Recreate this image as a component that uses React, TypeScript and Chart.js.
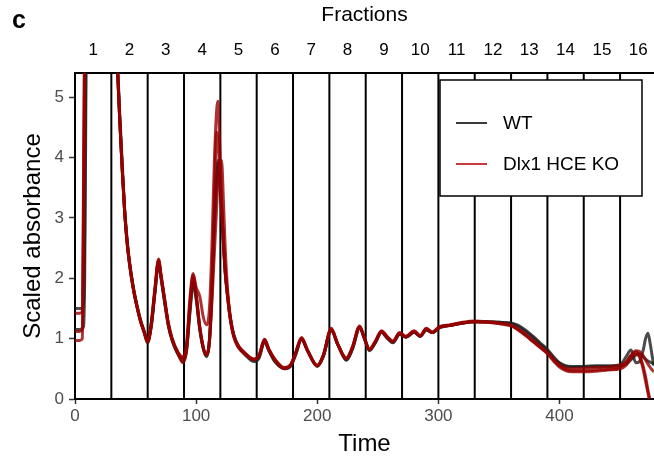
import React, { useEffect, useRef } from 'react';
import { Chart, registerables } from 'chart.js';

Chart.register(...registerables);

const FONT = '"Liberation Sans", Arial, Helvetica, sans-serif';

// Elution time (shared by all traces)
const time = [
  0, 4, 6, 7, 8, 9, 10, 15, 20, 25,
  30, 33, 35, 37, 39, 41, 43, 45, 48, 51,
  54, 57, 60, 63, 66, 69, 71, 74, 77, 80,
  85, 89, 92, 95, 97.5, 100, 103, 106, 108.5, 111,
  113, 115, 117, 118, 119.5, 121, 122.5, 124, 126, 128,
  131, 135, 140, 148, 152, 156.5, 160, 165, 173, 178,
  182, 187, 192, 200, 205, 211.5, 217, 224, 229, 235,
  239, 243, 248, 253, 258, 262.5, 268, 273, 280, 285,
  290, 295, 301, 310, 320, 330, 340, 350, 360, 366,
  372, 378, 384, 390, 395, 400, 405, 410, 420, 430,
  440, 450, 455, 459, 463, 466, 469, 471, 473, 475,
  477, 478,
];

const wt1 = [
  1.5, 1.5, 1.5, 1.6, 2.8, 6.0, 8.5, 11, 11, 10,
  8, 6.6, 5.6, 4.7, 3.9, 3.15, 2.65, 2.28, 1.87, 1.57,
  1.32, 1.13, 0.97, 1.2, 1.75, 2.25, 2.0, 1.6, 1.22, 0.98,
  0.74, 0.62, 0.78, 1.45, 1.9, 1.65, 1.15, 0.82, 0.7, 0.95,
  1.7, 2.8, 3.6, 3.9, 3.6, 3.1, 2.6, 2.1, 1.68, 1.36,
  1.06, 0.86, 0.74, 0.62, 0.68, 0.95, 0.8, 0.62, 0.5, 0.54,
  0.72, 0.98, 0.8, 0.54, 0.7, 1.13, 0.9, 0.64, 0.82, 1.17,
  1.0, 0.8, 0.93, 1.1, 1.0, 0.93, 1.07, 1.02, 1.1, 1.04,
  1.14, 1.1, 1.18, 1.22, 1.26, 1.28, 1.28, 1.27, 1.26, 1.22,
  1.14, 1.04, 0.93, 0.82, 0.7, 0.6, 0.55, 0.54, 0.54, 0.55,
  0.55, 0.57, 0.7, 0.81, 0.6, 0.62, 0.8, 1.0, 1.09, 0.9,
  0.65, 0.55,
];

const wt2 = [
  1.15, 1.15, 1.17, 1.2, 2.0, 5.0, 8.0, 11, 11, 10,
  8, 6.5, 5.5, 4.6, 3.8, 3.1, 2.6, 2.24, 1.84, 1.54,
  1.29, 1.1, 0.93, 1.22, 1.78, 2.28, 2.02, 1.62, 1.23, 0.99,
  0.75, 0.68, 0.82, 1.5, 1.95, 1.7, 1.18, 0.84, 0.72, 0.98,
  1.8, 3.0, 3.75, 3.95, 3.7, 3.2, 2.65, 2.15, 1.72, 1.38,
  1.07, 0.87, 0.76, 0.64, 0.7, 0.96, 0.81, 0.63, 0.51, 0.55,
  0.73, 0.99, 0.8, 0.55, 0.71, 1.14, 0.9, 0.65, 0.83, 1.18,
  1.0, 0.81, 0.94, 1.11, 1.01, 0.94, 1.08, 1.03, 1.11, 1.04,
  1.15, 1.1, 1.19, 1.22, 1.26, 1.28, 1.28, 1.27, 1.25, 1.2,
  1.12, 1.02, 0.91, 0.8, 0.68, 0.59, 0.54, 0.53, 0.53, 0.54,
  0.54, 0.55, 0.58, 0.65, 0.73, 0.75, 0.7, 0.66, 0.63, 0.61,
  0.59, 0.58,
];

const ko1 = [
  1.12, 1.12, 1.15, 3.0, 6.0, 8.0, 9.0, 11, 11, 10,
  8, 6.5, 5.5, 4.6, 3.8, 3.1, 2.6, 2.25, 1.85, 1.55,
  1.3, 1.12, 0.95, 1.25, 1.8, 2.3, 2.05, 1.64, 1.25, 1.0,
  0.76, 0.66, 0.85, 1.6, 2.05, 1.75, 1.2, 0.85, 0.73, 1.0,
  1.9, 3.3, 4.42, 4.3, 3.7, 3.1, 2.6, 2.1, 1.7, 1.35,
  1.03, 0.85, 0.75, 0.65, 0.72, 0.98, 0.82, 0.65, 0.51, 0.56,
  0.75, 1.01, 0.8, 0.55, 0.72, 1.16, 0.9, 0.67, 0.85, 1.2,
  1.0, 0.82, 0.95, 1.12, 1.02, 0.95, 1.09, 1.03, 1.12, 1.04,
  1.16, 1.1, 1.19, 1.22, 1.26, 1.28, 1.27, 1.25, 1.22, 1.15,
  1.06, 0.96, 0.86, 0.76, 0.65, 0.55, 0.49, 0.47, 0.47, 0.48,
  0.49, 0.52, 0.6, 0.72, 0.78, 0.72, 0.55, 0.37, 0.15, -0.05,
  -0.3, -0.4,
];

const ko2 = [
  1.42, 1.42, 1.45, 3.5, 6.5, 8.5, 9.5, 11, 11, 10,
  8, 6.5, 5.5, 4.6, 3.8, 3.1, 2.6, 2.24, 1.84, 1.54,
  1.3, 1.12, 0.96, 1.28, 1.85, 2.32, 2.06, 1.66, 1.27, 1.02,
  0.78, 0.7, 0.9, 1.7, 2.08, 1.85, 1.7, 1.35, 1.23, 1.5,
  2.5, 3.9, 4.8, 4.93, 4.2, 3.3, 2.6, 2.1, 1.7, 1.36,
  1.05, 0.87, 0.76, 0.66, 0.73, 0.99, 0.83, 0.66, 0.52, 0.57,
  0.76, 1.02, 0.81, 0.56, 0.73, 1.17, 0.91, 0.68, 0.86, 1.21,
  1.01, 0.83, 0.96, 1.13, 1.03, 0.96, 1.1, 1.04, 1.13, 1.05,
  1.17, 1.11, 1.2, 1.23, 1.27, 1.29, 1.28, 1.26, 1.22, 1.16,
  1.07, 0.97, 0.87, 0.77, 0.66, 0.56, 0.51, 0.5, 0.51, 0.52,
  0.53, 0.56, 0.62, 0.72, 0.8, 0.79, 0.72, 0.65, 0.58, 0.52,
  0.47, 0.45,
];

const ko3 = [
  0.97, 0.97, 1.0, 2.5, 5.5, 8.0, 9.0, 11, 11, 10,
  8, 6.5, 5.5, 4.6, 3.8, 3.1, 2.6, 2.25, 1.85, 1.55,
  1.3, 1.12, 0.94, 1.24, 1.8, 2.28, 2.04, 1.63, 1.24, 1.0,
  0.76, 0.6, 0.8, 1.55, 2.0, 1.72, 1.18, 0.84, 0.73, 0.95,
  1.6, 2.4, 3.2, 3.6, 3.95, 3.95, 3.3, 2.5, 1.8, 1.4,
  1.06, 0.88, 0.77, 0.66, 0.72, 0.98, 0.82, 0.65, 0.5, 0.56,
  0.75, 1.0, 0.8, 0.55, 0.72, 1.15, 0.9, 0.67, 0.85, 1.19,
  1.0, 0.82, 0.95, 1.12, 1.02, 0.95, 1.09, 1.03, 1.12, 1.04,
  1.16, 1.1, 1.19, 1.22, 1.26, 1.28, 1.27, 1.25, 1.21, 1.14,
  1.05, 0.95, 0.85, 0.75, 0.63, 0.53, 0.47, 0.45, 0.45, 0.46,
  0.48, 0.5, 0.56, 0.68, 0.74, 0.7, 0.5, 0.3, 0.1, -0.1,
  -0.3, -0.4,
];

const xTicks = [0, 100, 200, 300, 400];
const yTicks = [0, 1, 2, 3, 4, 5];
const fractionBounds = [30, 60, 90, 120, 150, 180, 210, 240, 270, 300, 330, 360, 390, 420, 450];
const fractionCenters = [15, 45, 75, 105, 135, 165, 195, 225, 255, 285, 315, 345, 375, 405, 435, 465];
const fractionLabels = ['1', '2', '3', '4', '5', '6', '7', '8', '9', '10', '11', '12', '13', '14', '15', '16'];
const groupNames = ['WT', 'Dlx1 HCE KO'];

const WT_LINE = 'rgba(30,30,30,0.8)';
const KO_LINE = 'rgba(150,0,0,0.8)';
const WT_KEY = '#3b3b3b';
const KO_KEY = '#c63a3c';

export default function App() {
  const ref = useRef<HTMLCanvasElement>(null);

  useEffect(() => {
    if (!ref.current) return;
    const pts = (ys: number[]) => time.map((t, i) => ({ x: t, y: ys[i] }));

    const fractionPlugin = {
      id: 'fractionLines',
      beforeDatasetsDraw(chart: any) {
        const { ctx, chartArea, scales } = chart;
        ctx.save();
        ctx.strokeStyle = '#000';
        ctx.lineWidth = 2;
        for (const b of fractionBounds) {
          const px = scales.x.getPixelForValue(b);
          ctx.beginPath();
          ctx.moveTo(px, chartArea.top);
          ctx.lineTo(px, chartArea.bottom);
          ctx.stroke();
        }
        ctx.restore();
      },
      afterDraw(chart: any) {
        const { ctx, chartArea } = chart;
        ctx.save();
        // legend box
        const bx = chartArea.left + 365;
        const by = chartArea.top + 7;
        const bw = 202;
        const bh = 116;
        ctx.fillStyle = '#fff';
        ctx.fillRect(bx, by, bw, bh);
        ctx.strokeStyle = '#000';
        ctx.lineWidth = 1.5;
        ctx.strokeRect(bx, by, bw, bh);
        const keys = [WT_KEY, KO_KEY];
        const rows = [by + 43, by + 84];
        ctx.font = `19px ${FONT}`;
        ctx.textBaseline = 'middle';
        ctx.textAlign = 'left';
        groupNames.forEach((name, i) => {
          ctx.strokeStyle = keys[i];
          ctx.lineWidth = 2;
          ctx.beginPath();
          ctx.moveTo(bx + 16, rows[i]);
          ctx.lineTo(bx + 47, rows[i]);
          ctx.stroke();
          ctx.fillStyle = '#000';
          ctx.fillText(name, bx + 63, rows[i] + 1);
        });
        // panel tag
        ctx.font = `bold 25px ${FONT}`;
        ctx.textBaseline = 'alphabetic';
        ctx.fillStyle = '#000';
        ctx.fillText('c', 12, 28);
        ctx.restore();
      },
    };

    const tickFont = { family: FONT, size: 17 };
    const noSidePad = (s: any) => {
      s.paddingLeft = 0;
      s.paddingRight = 0;
    };

    const chart = new Chart(ref.current, {
      type: 'line',
      data: {
        datasets: [
          { label: groupNames[1], data: pts(ko1), borderColor: KO_LINE, order: 0 },
          { label: groupNames[1], data: pts(ko2), borderColor: KO_LINE, order: 0 },
          { label: groupNames[1], data: pts(ko3), borderColor: KO_LINE, order: 0 },
          { label: groupNames[0], data: pts(wt1), borderColor: WT_LINE, order: 1 },
          { label: groupNames[0], data: pts(wt2), borderColor: WT_LINE, order: 1 },
        ].map((d) => ({
          ...d,
          borderWidth: 3,
          pointRadius: 0,
          fill: false,
          cubicInterpolationMode: 'monotone' as const,
        })),
      },
      options: {
        animation: false,
        responsive: false,
        devicePixelRatio: 1,
        layout: { padding: 0 },
        plugins: { legend: { display: false }, tooltip: { enabled: false } },
        scales: {
          x: {
            type: 'linear',
            position: 'bottom',
            min: 0,
            max: 478,
            afterBuildTicks: (s: any) => {
              s.ticks = xTicks.map((v) => ({ value: v }));
            },
            afterFit: (s: any) => {
              s.height = 64;
              noSidePad(s);
            },
            grid: { drawOnChartArea: false, drawTicks: true, tickLength: 5, tickColor: '#333', tickWidth: 1.5 },
            border: { display: true, color: '#000', width: 2 },
            ticks: { color: '#4d4d4d', font: tickFont, padding: 2, maxRotation: 0, autoSkip: false },
            title: {
              display: true,
              text: 'Time',
              color: '#000',
              font: { family: FONT, size: 24 },
              padding: { top: 0, bottom: 4 },
            },
          },
          x2: {
            type: 'linear',
            position: 'top',
            min: 0,
            max: 478,
            afterBuildTicks: (s: any) => {
              s.ticks = fractionCenters.map((v) => ({ value: v }));
            },
            afterFit: (s: any) => {
              s.height = 73;
              noSidePad(s);
            },
            grid: { display: true, drawOnChartArea: false, drawTicks: false },
            border: { display: true, color: '#000', width: 2 },
            ticks: {
              color: '#000',
              font: tickFont,
              padding: 12,
              maxRotation: 0,
              autoSkip: false,
              callback: (_v: any, i: number) => fractionLabels[i],
            },
            title: {
              display: true,
              text: 'Fractions',
              color: '#000',
              font: { family: FONT, size: 21 },
              padding: { top: 3, bottom: 0 },
            },
          },
          y: {
            type: 'linear',
            position: 'left',
            min: 0,
            max: 5.4,
            afterBuildTicks: (s: any) => {
              s.ticks = yTicks.map((v) => ({ value: v }));
            },
            afterFit: (s: any) => {
              s.width = 75;
            },
            grid: { drawOnChartArea: false, drawTicks: true, tickLength: 6, tickColor: '#333', tickWidth: 1.5 },
            border: { display: true, color: '#000', width: 2 },
            ticks: { color: '#4d4d4d', font: tickFont, padding: 5 },
            title: {
              display: true,
              text: 'Scaled absorbance',
              color: '#000',
              font: { family: FONT, size: 24 },
              padding: { top: 19, bottom: 0 },
            },
          },
        },
      },
      plugins: [fractionPlugin],
    } as any);

    return () => chart.destroy();
  }, []);

  return (
    <div style={{ position: 'fixed', left: 0, top: 0, width: 654, height: 463, overflow: 'hidden', background: '#fff' }}>
      <canvas ref={ref} width={654} height={463} style={{ display: 'block', width: 654, height: 463 }} />
    </div>
  );
}
